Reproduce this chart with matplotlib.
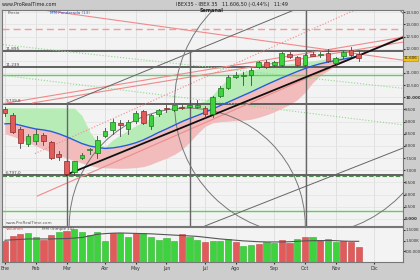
import matplotlib
matplotlib.use("Agg")
from matplotlib import pyplot as plt
from matplotlib.patches import Rectangle, Ellipse
import numpy as np

# weekly candles, IBEX 35 (week index 0 = first week of January)
opens  = [9530, 9280, 8700, 8070, 8210, 8450, 8170, 7650, 7380, 6920,
          7490, 7830, 7720, 8390, 8650, 8950, 8700, 9040, 9420, 8830,
          9320, 9560, 9470, 9620, 9590, 9600, 9570, 9300, 10070, 10400,
          10820, 10890, 10930, 11240, 11460, 11330, 11340, 11790, 11650, 11340,
          11780, 11720, 11820, 11400, 11680, 11950, 11800]
highs  = [9600, 9350, 8770, 8490, 8700, 8530, 8200, 7800, 7400, 7400,
          7720, 7900, 8390, 8730, 9120, 9060, 9050, 9420, 9470, 9320,
          9530, 9670, 9700, 9700, 9890, 9900, 9650, 10050, 10480, 10900,
          11030, 11060, 11200, 11500, 11540, 11500, 11850, 11850, 11700, 11800,
          11850, 11880, 12000, 11650, 11900, 12050, 11900]
lows   = [9250, 8520, 7930, 8000, 8070, 8030, 7450, 7440, 6790, 6800,
          7450, 7680, 7510, 8350, 8500, 8420, 8480, 8950, 8900, 8700,
          9220, 9400, 9420, 9500, 9550, 9580, 9200, 9180, 10000, 10350,
          10780, 10510, 10510, 11200, 11220, 11300, 11300, 11620, 11300, 11300,
          11680, 11650, 11450, 11300, 11620, 11700, 11500]
closes = [9370, 8580, 8110, 8390, 8490, 8210, 7510, 7560, 6860, 7370,
          7630, 7860, 8250, 8630, 9000, 8860, 9000, 9360, 8950, 9280,
          9460, 9500, 9680, 9560, 9680, 9680, 9300, 10000, 10400, 10830,
          10930, 10920, 11140, 11450, 11240, 11460, 11820, 11660, 11340, 11750,
          11710, 11790, 11510, 11610, 11860, 11750, 11606]

# weighted moving average (blue) and cloud borders
ma_line = [8910, 8920, 8850, 8770, 8700, 8660, 8600, 8500, 8380, 8240,
           8100, 8000, 7940, 7900, 7920, 7970, 8040, 8130, 8250, 8400,
           8560, 8700, 8850, 9000, 9130, 9250, 9380, 9520, 9660, 9800,
           9940, 10080, 10220, 10370, 10520, 10660, 10800, 10930, 11060, 11180,
           11290, 11380, 11450, 11510, 11570, 11630, 11690]
cloud_up = [9580, 9580, 9570, 9570, 9570, 9570, 9570, 9570, 9560, 9560,
            9250, 8600, 8140, 7950, 8250, 8450, 8650, 8830, 8990, 9150,
            9300, 9450, 9560, 9650, 9700, 9750, 9850, 10100, 10450, 10750,
            10950, 11050, 11120, 11190, 11250, 11300, 11346, 11380, 11417, 11460,
            11500, 11540, 11600, 11640, 11690, 11700, 11700]
cloud_lo = [8500, 8400, 8280, 8150, 8000, 7870, 7740, 7620, 7500, 7400,
            7300, 7200, 7130, 7100, 7090, 7080, 7090, 7110, 7150, 7250,
            7380, 7500, 7650, 7850, 8150, 8500, 8800, 8950, 9000, 9020,
            9040, 9060, 9100, 9180, 9280, 9400, 9550, 9700, 9900, 10200,
            10600, 10900, 11100, 11300, 11450, 11580, 11680]

volume = [0.97, 1.20, 1.32, 1.38, 1.15, 1.05, 1.27, 1.39, 1.47, 1.55,
          1.42, 1.27, 1.42, 1.00, 1.35, 1.38, 1.17, 1.38, 1.35, 1.17,
          1.05, 1.12, 0.97, 1.33, 1.17, 1.05, 0.94, 1.00, 1.00, 1.08,
          0.92, 0.74, 0.79, 0.85, 0.94, 0.89, 1.05, 0.89, 1.08, 1.18,
          1.15, 1.01, 1.09, 0.94, 0.97, 0.94, 0.71]
vol_dir = "rrrggrrgrgggggrggrgggggrggrgggrggrggrrgrgrggrr" + "r"
vol_ma = [1.02, 1.04, 1.06, 1.08, 1.08, 1.08, 1.08, 1.09, 1.10, 1.12,
          1.15, 1.22, 1.30, 1.33, 1.35, 1.36, 1.35, 1.34, 1.33, 1.32,
          1.30, 1.28, 1.26, 1.24, 1.22, 1.20, 1.16, 1.12, 1.08, 1.05,
          1.02, 0.99, 0.97, 0.95, 0.94, 0.94, 0.94, 0.95, 0.97, 0.99,
          1.00, 1.00, 1.01, 1.00, 0.98, 0.97, 0.97]

months = ["Ene", "Feb", "Mar", "Abr", "May", "Jun", "Jul", "Ago", "Sep", "Oct", "Nov", "Dic"]
month_week = [0, 4, 8, 13, 17, 21, 26, 30, 35, 39, 43, 48]

# drawn objects: horizontal levels, trend lines as (week, price) pairs
levels_gray = [11895, 11239, 9739.8, 6797]
level_labels = ["11.895", "11.239", "9.739,8", "6.797,0"]
levels_green = [10932, 5339]
level_dashed_pink = 12800
pink_lines = [((4.9, 13590), (51.75, 11528)),
              ((-0.65, 9720), (51.75, 12472)),
              ((4.2, 5942), (51.75, 12513)),
              ((3.6, 9770), (51.75, 12270))]
pink_dotted = [((3.9, 7690), (45.5, 13590))]
green_dotted = [((-0.65, 12180), (51.75, 10370)),
                ((-0.65, 10920), (51.75, 8870))]
gray_lines = [((8.06, 9758), (37.6, 13590)),
              ((26.0, 4710), (51.75, 7914))]
vlines = [(8.06, 4710, 9758), (24.1, 4710, 11895), (39.2, 4710, 13590)]
circles = [((23.7, 4710), 30.7, 2 * 118 * 41.07),
           ((39.2, 9758), 34.3, 2 * 132 * 41.07)]

red_c, red_e = "#e25b5b", "#8a2a2a"
grn_c, grn_e = "#3fd23f", "#1d7a1d"

fig = plt.figure(figsize=(4.2, 2.8), dpi=100)
fig.patch.set_facecolor("#cdcdcd")

ax = fig.add_axes([2/420, 1 - 226/280, 401/420, 216/280])
axv = fig.add_axes([2/420, 1 - 262/280, 401/420, 35/280], sharex=ax)
for a in (ax, axv):
    a.set_facecolor("#f3f3f3")
    for s in a.spines.values():
        s.set_color("#777777")
        s.set_linewidth(0.8)

w = np.arange(len(closes))
xmin, xmax = -0.39, 51.76
ymin, ymax = 4710, 13590
ax.set_xlim(xmin, xmax)
ax.set_ylim(ymin, ymax)

# grid
for m in month_week:
    ax.axvline(m, color="#dddddd", lw=0.6, zorder=0)
    axv.axvline(m, color="#dddddd", lw=0.6, zorder=0)
for yv in np.arange(5000, 13600, 500):
    ax.axhline(yv, color="#e2e2e2", lw=0.5, zorder=0)

# cloud
ma = np.array(ma_line)
up = np.array(cloud_up)
lo = np.array(cloud_lo)
ax.fill_between(w, ma, up, where=up > ma, interpolate=True, color="#b7ecb7", lw=0, zorder=1)
ax.fill_between(w, lo, ma, color="#f2bcbc", lw=0, zorder=1)

# level lines
for lv, lab in zip(levels_gray, level_labels):
    ax.axhline(lv, color="#555555", lw=1.3, zorder=2)
    ax.text(0.1, lv + 60, lab, fontsize=3.0, color="#444444", zorder=6)
ax.axhline(levels_gray[-1] - 40, color="#4e8f4e", lw=0.8, ls=(0, (4, 2)), zorder=2)
for lv in levels_green:
    ax.axhline(lv, color="#5fcf5f", lw=1.0, zorder=2)
ax.axhline(level_dashed_pink, color="#f39a9a", lw=1.0, ls=(0, (5, 3)), zorder=2)

for (x0, y0), (x1, y1) in pink_lines:
    ax.plot([x0, x1], [y0, y1], color="#f08a8a", lw=0.8, zorder=2)
for (x0, y0), (x1, y1) in pink_dotted:
    ax.plot([x0, x1], [y0, y1], color="#f08a8a", lw=0.8, ls=":", zorder=2)
for (x0, y0), (x1, y1) in green_dotted:
    ax.plot([x0, x1], [y0, y1], color="#8fd88f", lw=0.8, ls=":", zorder=2)
for (x0, y0), (x1, y1) in gray_lines:
    ax.plot([x0, x1], [y0, y1], color="#666666", lw=0.7, zorder=2)
for xv, y0, y1 in vlines:
    ax.plot([xv, xv], [y0, y1], color="#666666", lw=1.0, zorder=2)
for (cx, cy), wd, ht in circles:
    ax.add_patch(Ellipse((cx, cy), wd, ht, fill=False, ec="#777777", lw=0.7, zorder=2))

# moving average and trend line
ax.plot(w, ma, color="#2a5bd8", lw=1.0, zorder=3)
ax.plot([8.0, 51.76], [6820, 12460], color="#111111", lw=1.3, zorder=3)

# candles
bw = 0.62
for i in w:
    o, h, l, c = opens[i], highs[i], lows[i], closes[i]
    fc, ec = (grn_c, grn_e) if c >= o else (red_c, red_e)
    ax.plot([i, i], [l, h], color="#444444", lw=0.6, zorder=4)
    ax.add_patch(Rectangle((i - bw / 2, min(o, c)), bw, max(abs(c - o), 15),
                           fc=fc, ec=ec, lw=0.5, zorder=5))

# right axis
ax.yaxis.tick_right()
yt = np.arange(5000, 13600, 500)
ax.set_yticks(yt)
ax.set_yticklabels([f"{v:,.0f}".replace(",", ".") for v in yt])
ax.tick_params(axis="y", labelsize=2.9, length=1.2, pad=0.4, colors="#333333")
for t in ax.get_yticklabels():
    if t.get_text() in ("10.000", "5.000"):
        t.set_fontweight("bold")
    if t.get_text() == "11.500":
        t.set_visible(False)
ax.tick_params(axis="x", length=0, labelbottom=False)
ax.text(xmax + 0.1, closes[-1], "11.606", fontsize=2.9, va="center", ha="left",
        color="#222222", zorder=7, clip_on=False,
        bbox=dict(boxstyle="square,pad=0.12", fc="#f2c21b", ec="#b08a00", lw=0.4))

ax.text(0.4, 13430, "Precio", fontsize=3.0, color="#555555", zorder=6)
ax.text(5.8, 13430, "MM Ponderada (13)", fontsize=3.0, color="#2a5bd8", zorder=6)
ax.text(0.1, 4800, "www.ProRealTime.com", fontsize=3.0, color="#555555", zorder=6)

# volume
vol = np.array(volume) * 1e6
vcol = ["#e25b5b" if k == "r" else "#3fd23f" for k in vol_dir]
vedge = ["#c04a4a" if k == "r" else "#34b034" for k in vol_dir]
axv.bar(w, vol, width=0.8, color=vcol, edgecolor=vedge, lw=0.4, zorder=2)
axv.plot(w, np.array(vol_ma) * 1e6, color="#555555", lw=0.8, zorder=3)
axv.set_ylim(0, 1.64e6)
axv.yaxis.tick_right()
axv.set_yticks([500000, 1000000, 1500000])
axv.set_yticklabels(["500.000", "1.000K", "1.500K"])
axv.tick_params(axis="y", labelsize=2.8, length=1.2, pad=0.4, colors="#333333")
axv.set_xticks(month_week)
axv.set_xticklabels(months)
axv.tick_params(axis="x", labelsize=3.4, length=1.5, pad=1.5, colors="#333333")
axv.text(0.1, 1.48e6, "Volumen", fontsize=3.0, color="#d05050", zorder=6)
axv.text(4.8, 1.48e6, "MM (Simple 10)", fontsize=3.0, color="#555555", zorder=6)

# header
fig.text(0.005, 0.994, "www.ProRealTime.com", fontsize=3.5, color="#222222", va="top")
fig.text(0.553, 0.994, "IBEX35 - IBEX 35   11.606,50 (-0,44%)   11:49", fontsize=3.5,
         color="#222222", va="top", ha="center")
fig.text(0.503, 0.973, "Semanal", fontsize=3.5, color="#222222", va="top", ha="center",
         fontweight="bold")

fig.savefig("out.png", dpi=100, facecolor=fig.get_facecolor())
